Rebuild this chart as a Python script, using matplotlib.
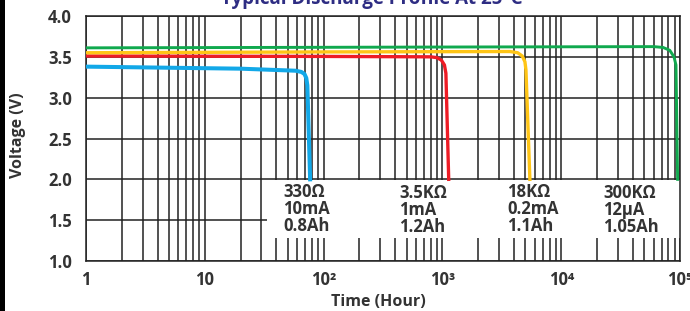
import numpy as np
import matplotlib
matplotlib.use("Agg")
import matplotlib.pyplot as plt
from matplotlib.patches import Rectangle

plt.rcParams['font.family'] = ['Open Sans', 'DejaVu Sans']
plt.rcParams['font.weight'] = 'bold'

# discharge curves (hours, volts)
blue_t = [1, 20, 58, 65, 69, 71.5, 73, 77]
blue_v = [3.38, 3.355, 3.33, 3.315, 3.29, 3.24, 3.15, 2.0]
red_t = [1, 100, 800, 900, 980, 1040, 1070, 1130]
red_v = [3.51, 3.505, 3.50, 3.49, 3.46, 3.40, 3.30, 2.0]
yellow_t = [1, 100, 3700, 4300, 4700, 4950, 5050, 5450]
yellow_v = [3.55, 3.56, 3.565, 3.55, 3.51, 3.44, 3.34, 2.0]
green_t = [1, 1000, 60000, 72000, 82000, 89000, 92500, 95500]
green_v = [3.61, 3.62, 3.625, 3.615, 3.58, 3.50, 3.40, 2.0]

loads = ["330Ω", "3.5KΩ", "18KΩ", "300KΩ"]
currents = ["10mA", "1mA", "0.2mA", "12µA"]
capacities = ["0.8Ah", "1.2Ah", "1.1Ah", "1.05Ah"]
label_x = [45.5, 431, 3500, 22500]
label_y = [1.64, 1.62, 1.64, 1.62]

yticks = [1.0, 1.5, 2.0, 2.5, 3.0, 3.5, 4.0]
xticks = [1, 10, 100, 1000, 10000, 100000]
xticklabels = ["1", "10", "10²", "10³", "10⁴", "10⁵"]

fig = plt.figure(figsize=(6.9, 3.11), dpi=100)
ax = fig.add_axes([86/690, 1-261/311, (680-86)/690, (261-16)/311])

ink = '#333333'
ax.set_xscale('log')
ax.set_xlim(1, 1e5)
ax.set_ylim(1.0, 4.0)
ax.set_axisbelow(True)
ax.grid(True, which='both', axis='x', color='#222222', linewidth=1.1)
ax.grid(True, which='major', axis='y', color='#222222', linewidth=1.1)
ax.set_yticks(yticks)
ax.set_yticklabels([f"{v:.1f}" for v in yticks])
ax.set_xticks(xticks)
ax.set_xticklabels(xticklabels)
ax.tick_params(axis='both', which='both', length=0, labelsize=12, labelcolor=ink)
ax.tick_params(axis='y', pad=10)
ax.tick_params(axis='x', pad=7)
for s in ax.spines.values():
    s.set_color('#222222')
    s.set_linewidth(1.1)

# white panel behind the load labels
ax.add_patch(Rectangle((33.4, 1.28), 1e5 - 33.4, 0.71, facecolor='white',
                       edgecolor='none', zorder=1))

ax.plot(blue_t, blue_v, color='#12a8e8', lw=2.9, solid_joinstyle='round', zorder=3)
ax.plot(red_t, red_v, color='#ee1c25', lw=2.4, solid_joinstyle='round', zorder=3)
ax.plot(yellow_t, yellow_v, color='#ffc516', lw=2.4, solid_joinstyle='round', zorder=3)
ax.plot(green_t, green_v, color='#10a94e', lw=2.1, solid_joinstyle='round', zorder=3)

for x, y, r, c, a in zip(label_x, label_y, loads, currents, capacities):
    ax.text(x, y, f"{r}\n{c}\n{a}", ha='left', va='center', fontsize=12,
            color=ink, linespacing=0.92, zorder=4)

fig.text(18/690, 1-135/311, "Voltage (V)", rotation=90, ha='center', va='center',
         fontsize=11.5, color=ink)
fig.text(378/690, 1-302/311, "Time (Hour)", ha='center', va='center',
         fontsize=11.5, color=ink)
fig.text(372/690, 1-4/311, "Typical Discharge Profile At 25°C", ha='center',
         va='baseline', fontsize=13.5, color='#2e2d83')

# dark strip on the left edge
fig.add_artist(Rectangle((0, 0), 5/690, 1, transform=fig.transFigure,
                         facecolor='black', edgecolor='none'))

fig.savefig("out.png", dpi=100)
